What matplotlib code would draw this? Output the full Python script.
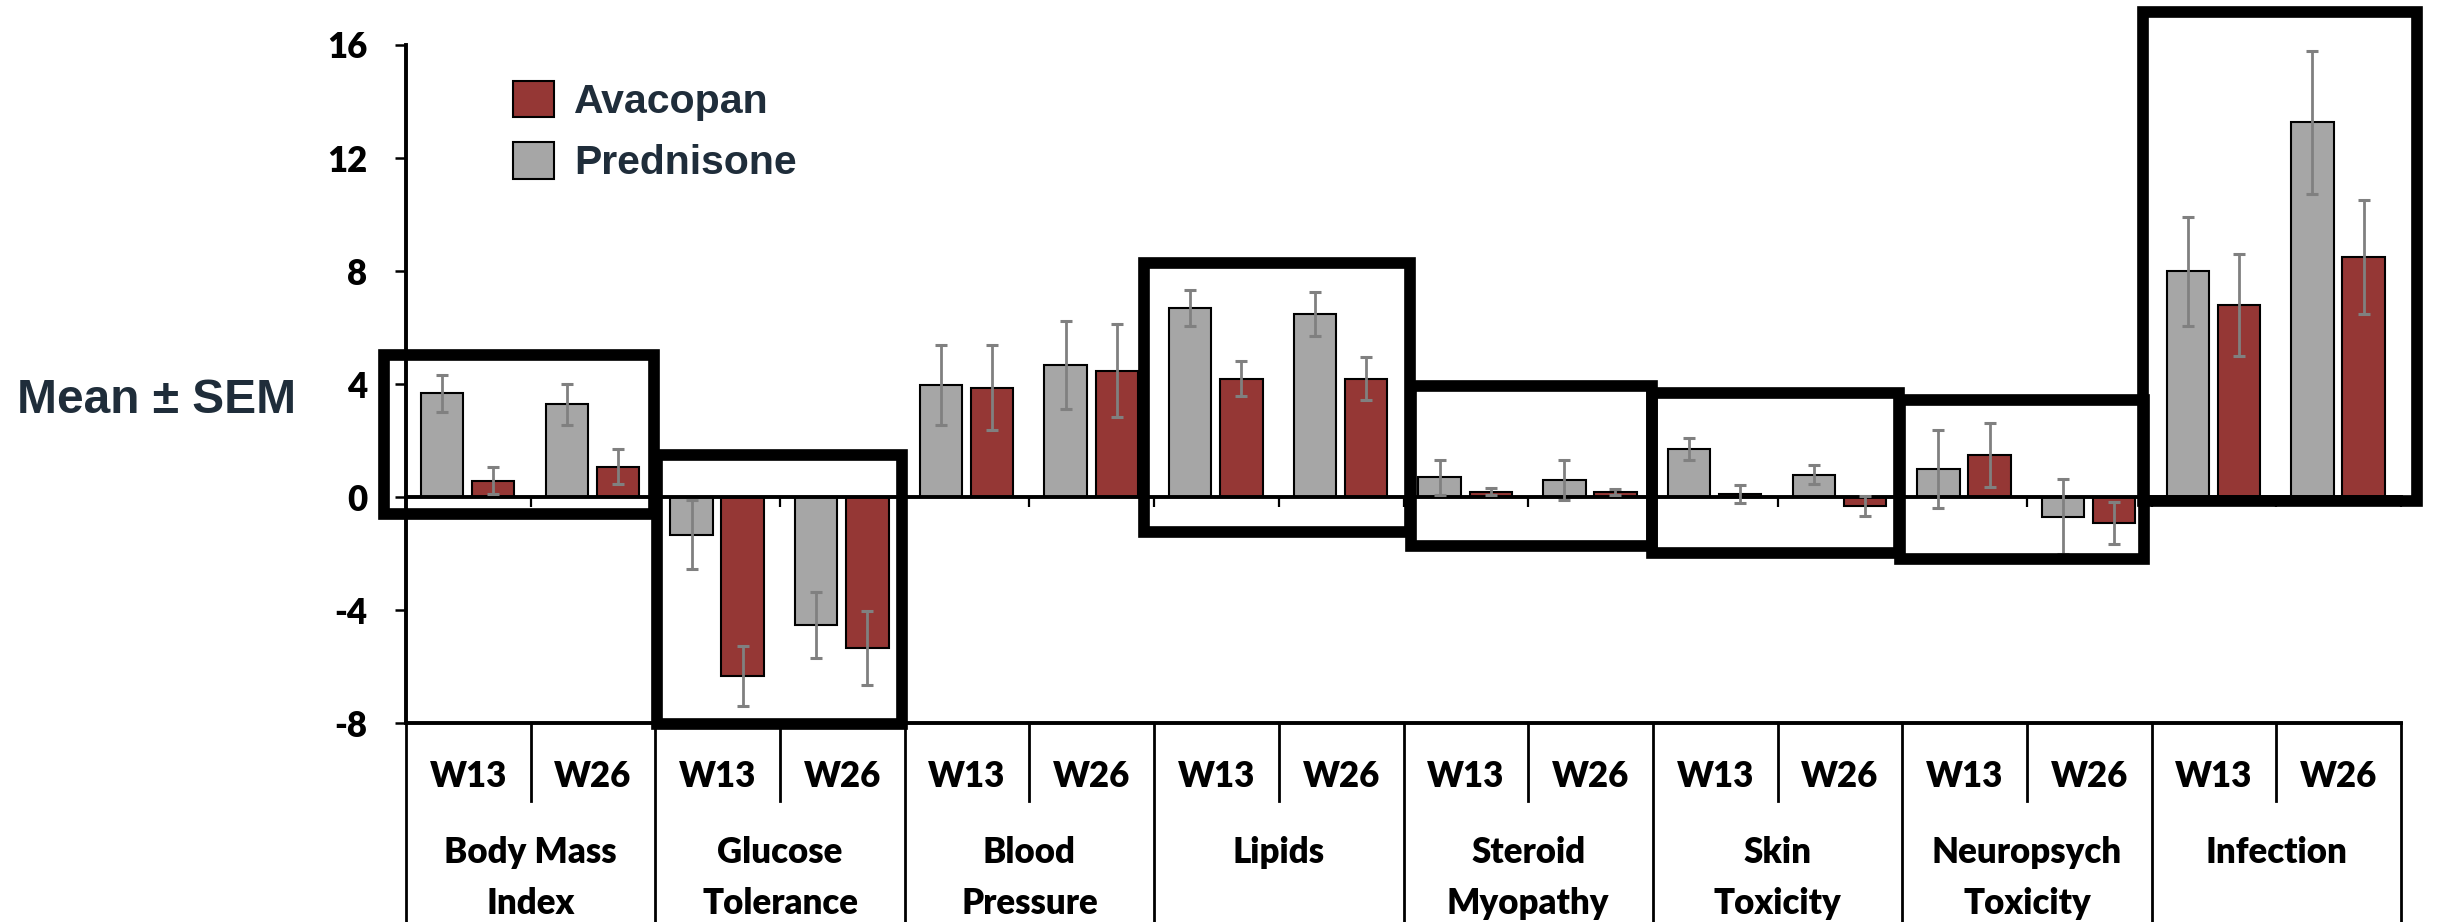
import numpy as np
import matplotlib
matplotlib.use('Agg')
import matplotlib.pyplot as plt
from matplotlib.patches import Rectangle

plt.rcParams['font.family'] = ['Lato', 'DejaVu Sans']

# Domains, each measured at week 13 and week 26
groups = ["Body Mass\nIndex", "Glucose\nTolerance", "Blood\nPressure", "Lipids",
          "Steroid\nMyopathy", "Skin\nToxicity", "Neuropsych\nToxicity", "Infection"]
weeks = ["W13", "W26"]

prednisone_mean = [3.67, 3.28, -1.33, -4.52, 3.98, 4.68, 6.69, 6.48,
                   0.71, 0.60, 1.71, 0.80, 1.01, -0.69, 7.99, 13.27]
prednisone_sem = [0.67, 0.72, 1.22, 1.16, 1.42, 1.55, 0.65, 0.78,
                  0.62, 0.71, 0.39, 0.34, 1.38, 1.33, 1.93, 2.53]
avacopan_mean = [0.59, 1.08, -6.32, -5.34, 3.88, 4.47, 4.19, 4.19,
                 0.19, 0.19, 0.10, -0.32, 1.50, -0.90, 6.79, 8.49]
avacopan_sem = [0.49, 0.62, 1.06, 1.32, 1.51, 1.65, 0.62, 0.76,
                0.12, 0.11, 0.32, 0.36, 1.14, 0.74, 1.80, 2.02]

yticks = [-8, -4, 0, 4, 8, 12, 16]

# highlight frames around domains: (x0, x1, y0, y1) in data units
frames = [(-0.18, 1.99, -0.59, 5.03),
          (2.01, 3.98, -8.01, 1.49),
          (5.92, 8.05, -1.22, 8.29),
          (8.06, 9.99, -1.71, 3.93),
          (9.99, 11.97, -1.96, 3.67),
          (11.98, 13.94, -2.19, 3.44),
          (13.93, 16.13, -0.15, 17.17)]

GRAY = '#A6A6A6'
RED = '#953735'
NAVY = '#1f2d3a'
WEIGHT = 'heavy'

W, H = 2438, 922
fig = plt.figure(figsize=(W / 100, H / 100), dpi=100)
ax = fig.add_axes([406 / W, 1 - 723.3 / H, 1995 / W, (723.3 - 45) / H])

n = len(prednisone_mean)
x = np.arange(n)
bw = 0.34
err_kw = dict(ecolor='#808080', elinewidth=2.0, capsize=4.2, capthick=2.2, zorder=4)
b_pred = ax.bar(x + 0.29, prednisone_mean, bw, yerr=prednisone_sem, color=GRAY,
                edgecolor='black', linewidth=1.5, error_kw=err_kw, zorder=2)
b_ava = ax.bar(x + 0.70, avacopan_mean, bw, yerr=avacopan_sem, color=RED,
               edgecolor='black', linewidth=1.5, error_kw=err_kw, zorder=2)

ax.set_xlim(0, n)
ax.set_ylim(yticks[0], yticks[-1])
for s in ['top', 'right']:
    ax.spines[s].set_visible(False)
ax.spines['bottom'].set_position(('data', 0))
ax.spines['bottom'].set_linewidth(2.8)
ax.spines['bottom'].set_zorder(3)
ax.spines['left'].set_linewidth(2.8)

ax.set_xticks(np.arange(0, n + 1))
ax.set_xticklabels([])
ax.tick_params(axis='x', direction='out', length=7, width=1.6)
ax.set_yticks(yticks, [str(t) for t in yticks], fontsize=25, fontweight=WEIGHT)
ax.tick_params(axis='y', direction='out', length=8, width=1.8, pad=20)

# category table under the plot
ax.plot([0, n], [-8, -8], color='black', lw=2.8, clip_on=False)
for b in range(0, n + 1, 2):
    ax.plot([b, b], [-8, -15.5], color='black', lw=2, clip_on=False)
for b in range(1, n, 2):
    ax.plot([b, b], [-8, -10.74], color='black', lw=2, clip_on=False)
for i in range(n):
    ax.text(i + 0.5, -10.27, weeks[i % 2], ha='center', va='baseline',
            fontsize=25, fontweight=WEIGHT, clip_on=False)
for g, name in enumerate(groups):
    for j, line in enumerate(name.split('\n')):
        ax.text(2 * g + 1, -12.96 - 1.77 * j, line, ha='center', va='baseline',
                fontsize=25, fontweight=WEIGHT, clip_on=False)

for x0, x1, y0, y1 in frames:
    ax.add_patch(Rectangle((x0, y0), x1 - x0, y1 - y0, fill=False, edgecolor='black',
                           linewidth=8.4, joinstyle='miter', clip_on=False, zorder=6))

fig.text(17 / W, 1 - 413.3 / H, 'Mean \u00b1 SEM', ha='left', va='baseline',
         fontsize=34.5, fontweight='bold', family='Liberation Sans', color=NAVY)

ax.legend([b_ava, b_pred], ['Avacopan', 'Prednisone'], loc='upper left',
          bbox_to_anchor=(513 / W, 1 - 80.7 / H), bbox_transform=fig.transFigure,
          frameon=False, borderpad=0, borderaxespad=0, handlelength=1.0,
          handleheight=1.0, handletextpad=0.5, labelspacing=0.51, labelcolor=NAVY,
          prop=dict(family='Liberation Sans', weight='bold', size=29.5))

fig.savefig('out.png', dpi=100)
